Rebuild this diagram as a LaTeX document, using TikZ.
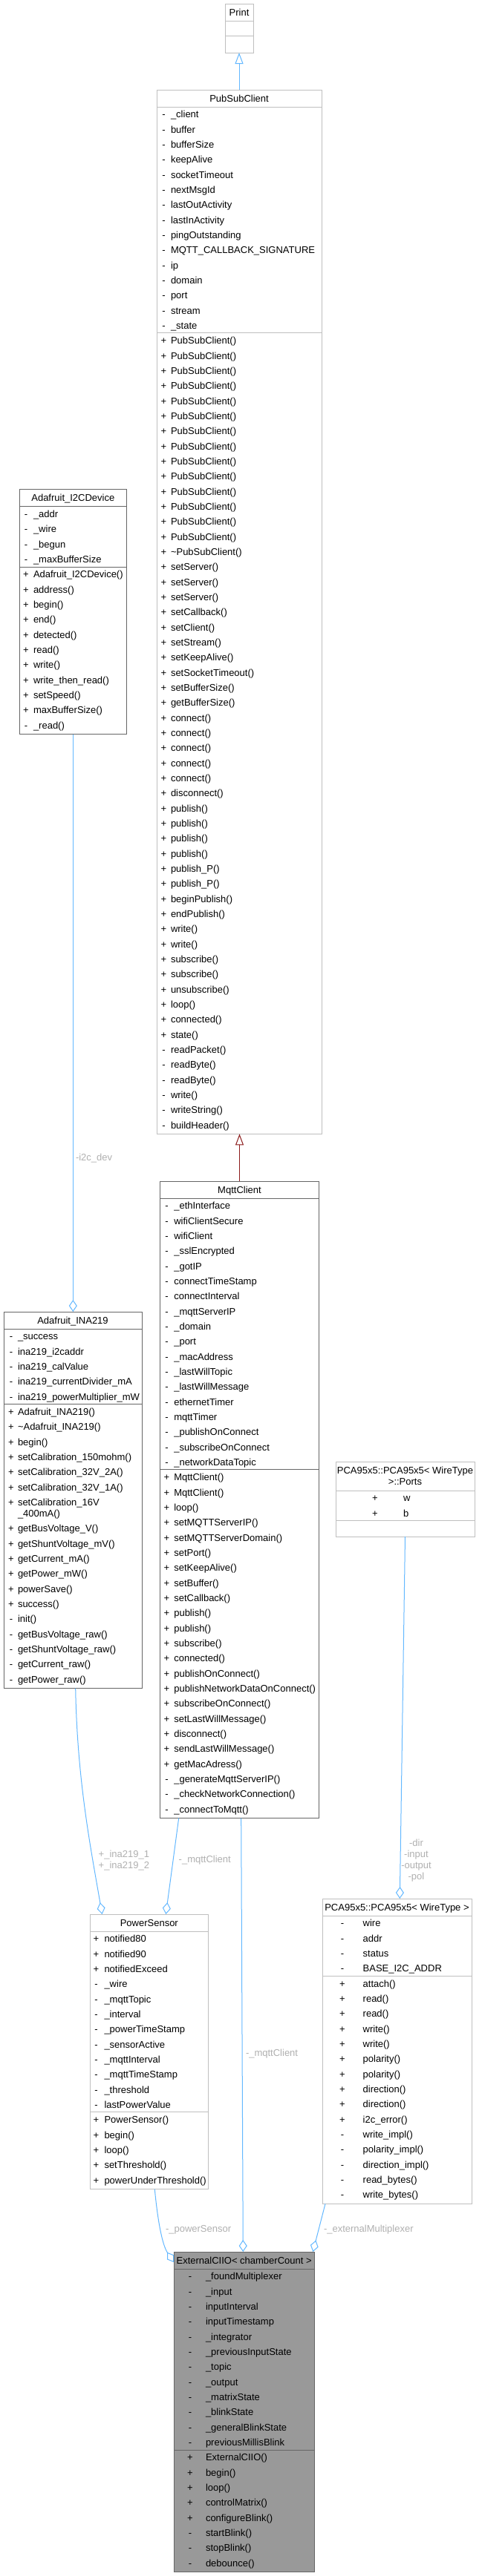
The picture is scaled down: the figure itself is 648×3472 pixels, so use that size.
\documentclass[tikz,border=0pt]{standalone}
\usepackage{fontspec}
\setmainfont{Liberation Sans}
\usetikzlibrary{arrows.meta}
\definecolor{edgeblue}{HTML}{63B8FF}
\definecolor{edgered}{HTML}{8B1A1A}
\definecolor{lightborder}{HTML}{BFBFBF}
\definecolor{darkborder}{HTML}{666666}
\definecolor{focusfill}{HTML}{999999}
\definecolor{labelgray}{HTML}{B0B0B0}
\tikzset{
  every node/.style={font=\fontsize{13}{15.5}\selectfont, inner sep=0pt, outer sep=0pt},
  classbox/.style={line width=1pt, inner sep=0pt, anchor=north west},
  rowtxt/.style={anchor=west, text height=9.5pt, text depth=0pt},
  marktxt/.style={anchor=center, text height=9.5pt, text depth=0pt},
  titletxt/.style={anchor=center, text height=9.5pt, text depth=0pt},
  edgelabel/.style={text=labelgray, anchor=west, text height=9.5pt, text depth=0pt},
  edgelabelc/.style={text=labelgray, anchor=center, text height=9.5pt, text depth=0pt},
  inhblue/.style={draw=edgeblue, line width=1pt, -{Triangle[open, length=15pt, width=11pt]}},
  inhred/.style={draw=edgered, line width=1pt, -{Triangle[open, length=15pt, width=11pt]}},
  aggr/.style={draw=edgeblue, line width=1pt, -{Diamond[open, length=16pt, width=11pt]}},
}
% #1 border, #2 fill, #3 name, #4 left, #5 right, #6 top, #7 sep1, #8 sep2, #9 bottom
\newcommand\umlclass[9]{%
  \node[classbox, draw=#1, fill=#2, minimum width={(#5-#4)*1pt}, minimum height={(#9-#6)*1pt}] (#3) at (#4,#6) {};
  \draw[draw=#1, line width=1pt] (#4,#7) -- (#5,#7);
  \draw[draw=#1, line width=1pt] (#4,#8) -- (#5,#8);
}
% #1 prefix, #2 marker x, #3 text x, #4 section top, #5 list marker/text
\newcommand\umlrows[5]{%
  \foreach \umk/\utx [count=\ri from 0] in {#5} {
    \node[marktxt] (#1m\ri) at (#2, {#4+(\ri+0.5)*20.33}) {\umk};
    \node[rowtxt] (#1t\ri) at (#3, {#4+(\ri+0.5)*20.33}) {\utx};
  }
}
\begin{document}
\catcode`\_=12
\begin{tikzpicture}[x=1pt, y=-1pt]
\fill[white] (0,0) rectangle (648,3472);
\useasboundingbox (0,0) rectangle (648,3472);

% Print
\umlclass{lightborder}{white}{print}{303}{341}{5}{28.7}{48.7}{71}
\node[titletxt] (printtitle) at (322,16.9) {Print};

% PubSubClient
\umlclass{lightborder}{white}{psc}{211}{433}{121}{144}{448.95}{1528.4}
\node[titletxt] (psctitle) at (322,132.5) {PubSubClient};
\umlrows{psa}{220.5}{230}{144}{-/_client,-/buffer,-/bufferSize,-/keepAlive,-/socketTimeout,-/nextMsgId,-/lastOutActivity,-/lastInActivity,-/pingOutstanding,-/MQTT_CALLBACK_SIGNATURE,-/ip,-/domain,-/port,-/stream,-/_state}
\umlrows{psm}{220.5}{230}{448.95}{+/PubSubClient(),+/PubSubClient(),+/PubSubClient(),+/PubSubClient(),+/PubSubClient(),+/PubSubClient(),+/PubSubClient(),+/PubSubClient(),+/PubSubClient(),+/PubSubClient(),+/PubSubClient(),+/PubSubClient(),+/PubSubClient(),+/PubSubClient(),+/\textasciitilde PubSubClient(),+/setServer(),+/setServer(),+/setServer(),+/setCallback(),+/setClient(),+/setStream(),+/setKeepAlive(),+/setSocketTimeout(),+/setBufferSize(),+/getBufferSize(),+/connect(),+/connect(),+/connect(),+/connect(),+/connect(),+/disconnect(),+/publish(),+/publish(),+/publish(),+/publish(),+/publish_P(),+/publish_P(),+/beginPublish(),+/endPublish(),+/write(),+/write(),+/subscribe(),+/subscribe(),+/unsubscribe(),+/loop(),+/connected(),+/state(),-/readPacket(),-/readByte(),-/readByte(),-/write(),-/writeString(),-/buildHeader()}

% Adafruit_I2CDevice
\umlclass{darkborder}{white}{i2c}{26}{170.7}{659.3}{682.7}{764.0}{989.6}
\node[titletxt] (i2ctitle) at (98.35,671) {Adafruit_I2CDevice};
\umlrows{i2a}{35}{45}{682.7}{-/_addr,-/_wire,-/_begun,-/_maxBufferSize}
\umlrows{i2m}{35}{45}{764.0}{+/Adafruit_I2CDevice(),+/address(),+/begin(),+/end(),+/detected(),+/read(),+/write(),+/write_then_read(),+/setSpeed(),+/maxBufferSize(),-/_read()}

% MqttClient
\umlclass{darkborder}{white}{mq}{215.7}{429.3}{1592}{1615}{1980.94}{2450.5}
\node[titletxt] (mqtitle) at (322.5,1603.5) {MqttClient};
\umlrows{mqa}{224.5}{234.3}{1615}{-/_ethInterface,-/wifiClientSecure,-/wifiClient,-/_sslEncrypted,-/_gotIP,-/connectTimeStamp,-/connectInterval,-/_mqttServerIP,-/_domain,-/_port,-/_macAddress,-/_lastWillTopic,-/_lastWillMessage,-/ethernetTimer,-/mqttTimer,-/_publishOnConnect,-/_subscribeOnConnect,-/_networkDataTopic}
\umlrows{mqm}{224.5}{234.3}{1980.94}{+/MqttClient(),+/MqttClient(),+/loop(),+/setMQTTServerIP(),+/setMQTTServerDomain(),+/setPort(),+/setKeepAlive(),+/setBuffer(),+/setCallback(),+/publish(),+/publish(),+/subscribe(),+/connected(),+/publishOnConnect(),+/publishNetworkDataOnConnect(),+/subscribeOnConnect(),+/setLastWillMessage(),+/disconnect(),+/sendLastWillMessage(),+/getMacAdress(),-/_generateMqttServerIP(),-/_checkNetworkConnection(),-/_connectToMqtt()}

% Adafruit_INA219
\umlclass{darkborder}{white}{ina}{5}{191}{1768}{1791}{1892.7}{2275.7}
\node[titletxt] (inatitle) at (98,1779.5) {Adafruit_INA219};
\umlrows{inaa}{15}{24}{1791}{-/_success,-/ina219_i2caddr,-/ina219_calValue,-/ina219_currentDivider_mA,-/ina219_powerMultiplier_mW}
\umlrows{inam}{15}{24}{1892.7}{+/Adafruit_INA219(),+/\textasciitilde Adafruit_INA219(),+/begin(),+/setCalibration_150mohm(),+/setCalibration_32V_2A(),+/setCalibration_32V_1A()}
\node[marktxt] (inamx) at (15,2024.8) {+};
\node[rowtxt] (inatxa) at (24,2024.8) {setCalibration_16V};
\node[rowtxt] (inatxb) at (24,2039.8) {_400mA()};
\umlrows{inan}{15}{24}{2050.0}{+/getBusVoltage_V(),+/getShuntVoltage_mV(),+/getCurrent_mA(),+/getPower_mW(),+/powerSave(),+/success(),-/init(),-/getBusVoltage_raw(),-/getShuntVoltage_raw(),-/getCurrent_raw(),-/getPower_raw()}

% PCA95x5 Ports
\umlclass{lightborder}{white}{ports}{452}{639}{1970}{2009}{2049.7}{2071}
\node[titletxt] (portst1) at (545.5,1982) {PCA95x5::PCA95x5< WireType};
\node[titletxt] (portst2) at (545.5,1997) {>::Ports};
\umlrows{pta}{505}{543}{2009}{+/w,+/b}

% PowerSensor
\umlclass{lightborder}{white}{pw}{121.3}{280.3}{2580}{2603}{2846.96}{2950.6}
\node[titletxt] (pwtitle) at (200.8,2591.5) {PowerSensor};
\umlrows{pwa}{129.5}{140.5}{2603}{+/notified80,+/notified90,+/notifiedExceed,-/_wire,-/_mqttTopic,-/_interval,-/_powerTimeStamp,-/_sensorActive,-/_mqttInterval,-/_mqttTimeStamp,-/_threshold,-/lastPowerValue}
\umlrows{pwm}{129.5}{140.5}{2846.96}{+/PowerSensor(),+/begin(),+/loop(),+/setThreshold(),+/powerUnderThreshold()}

% PCA95x5 main
\umlclass{lightborder}{white}{pca}{434}{635}{2559}{2582}{2663.3}{2970.3}
\node[titletxt] (pcatitle) at (534.5,2570.5) {PCA95x5::PCA95x5< WireType >};
\umlrows{pcaa}{461}{488.7}{2582}{-/wire,-/addr,-/status,-/BASE_I2C_ADDR}
\umlrows{pcam}{461}{488.7}{2663.3}{+/attach(),+/read(),+/read(),+/write(),+/write(),+/polarity(),+/polarity(),+/direction(),+/direction(),+/i2c_error(),-/write_impl(),-/polarity_impl(),-/direction_impl(),-/read_bytes(),-/write_bytes()}

% ExternalCIIO
\umlclass{darkborder}{focusfill}{ext}{234}{423.3}{3035}{3058}{3301.96}{3466.6}
\node[titletxt] (exttitle) at (328.65,3046.5) {ExternalCIIO< chamberCount >};
\umlrows{exa}{256}{277}{3058}{-/_foundMultiplexer,-/_input,-/inputInterval,-/inputTimestamp,-/_integrator,-/_previousInputState,-/_topic,-/_output,-/_matrixState,-/_blinkState,-/_generalBlinkState,-/previousMillisBlink}
\umlrows{exm}{256}{277}{3301.96}{+/ExternalCIIO(),+/begin(),+/loop(),+/controlMatrix(),+/configureBlink(),-/startBlink(),-/stopBlink(),-/debounce()}

% connectors
\draw[inhblue] (psc.north) -- (print.south);
\draw[inhred] (mq.north) -- (mq.north |- psc.south);
\draw[aggr] (i2c.south) -- (i2c.south |- ina.north);
\draw[aggr] ([xshift=96.7pt]ina.south west) .. controls (104,2400) and (122,2490) .. ([xshift=16.2pt]pw.north west);
\draw[aggr] ([xshift=25pt]mq.south west) -- ([xshift=102pt]pw.north west);
\draw[aggr] ([xshift=109pt]mq.south west) -- ([xshift=93.3pt]ext.north west);
\draw[aggr] ([xshift=87pt]pw.south west) .. controls (212,2990) and (218,3025) .. ([yshift=-14pt]ext.north west);
\draw[aggr] ([xshift=93.5pt]ports.south west) -- ([xshift=104.3pt]pca.north west);
\draw[aggr] ([xshift=4pt]pca.south west) -- ([xshift=-2pt]ext.north east);

% edge labels
\node[edgelabel] (li2c) at (102,1560) {-i2c_dev};
\node[edgelabel] (lina1) at (132.7,2499) {+_ina219_1};
\node[edgelabel] (lina2) at (132.7,2514) {+_ina219_2};
\node[edgelabel] (lmq1) at (240.7,2506) {-_mqttClient};
\node[edgelabel] (lmq2) at (331,2767) {-_mqttClient};
\node[edgelabelc] (ldir) at (560.5,2484) {-dir};
\node[edgelabelc] (linp) at (560.5,2499) {-input};
\node[edgelabelc] (lout) at (560.5,2514) {-output};
\node[edgelabelc] (lpol) at (560.5,2529) {-pol};
\node[edgelabel] (lpws) at (223,3004) {-_powerSensor};
\node[edgelabel] (lext) at (436,3004) {-_externalMultiplexer};
\end{tikzpicture}
\end{document}
